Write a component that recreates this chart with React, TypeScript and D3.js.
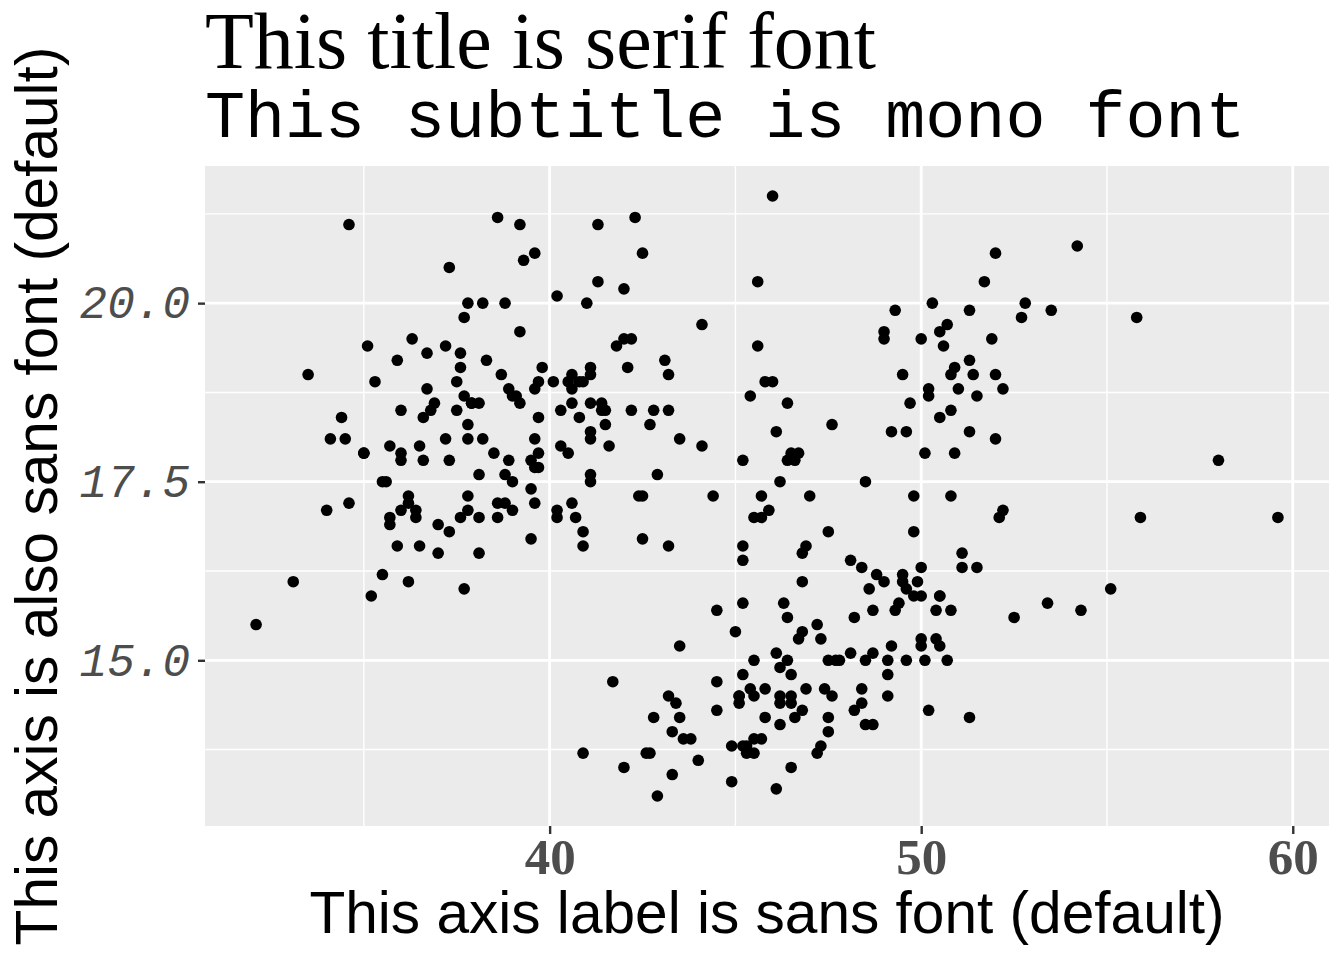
import React, { useRef, useEffect } from "react";
import * as d3 from "d3";

// bill length (mm) / bill depth (mm), grouped by the three clusters
const adelieLength = [
  39.1, 39.5, 40.3, 36.7, 39.3, 38.9, 39.2, 34.1, 42.0, 37.8, 37.8, 41.1, 38.6, 34.6, 36.6, 38.7,
  42.5, 34.4, 46.0, 37.8, 37.7, 35.9, 38.2, 38.8, 35.3, 40.6, 40.5, 37.9, 40.5, 39.5, 37.2, 39.5,
  40.9, 36.4, 39.2, 38.8, 42.2, 37.6, 39.8, 36.5, 40.8, 36.0, 44.1, 37.0, 39.6, 41.1, 37.5, 36.0,
  42.3, 39.6, 40.1, 35.0, 42.0, 34.5, 41.4, 39.0, 40.6, 36.5, 37.6, 35.7, 41.3, 37.6, 41.1, 36.4,
  41.6, 35.5, 41.1, 35.9, 41.8, 33.5, 39.7, 39.6, 45.8, 35.5, 42.8, 40.9, 37.2, 36.2, 42.1, 34.6,
  42.9, 36.7, 35.1, 37.3, 41.3, 36.3, 36.9, 38.3, 38.9, 35.7, 41.1, 34.0, 39.6, 36.2, 40.8, 38.1,
  40.3, 33.1, 43.2, 35.0, 41.0, 37.7, 37.8, 37.9, 39.7, 38.6, 38.2, 38.1, 43.2, 38.1, 45.6, 39.7,
  42.2, 39.6, 42.7, 38.6, 37.3, 35.7, 41.1, 36.2, 37.7, 40.2, 41.4, 35.2, 40.6, 38.8, 41.5, 39.0,
  44.1, 38.5, 43.1, 36.8, 37.5, 38.1, 41.1, 35.6, 40.2, 37.0, 39.7, 40.2, 40.6, 32.1, 40.7, 37.3,
  39.0, 39.2, 36.6, 36.0, 37.8, 36.0, 41.5,
];
const adelieDepth = [
  18.7, 17.4, 18.0, 19.3, 20.6, 17.8, 19.6, 18.1, 20.2, 17.1, 17.3, 17.6, 21.2, 21.1, 17.8, 19.0,
  20.7, 18.4, 21.5, 18.3, 18.7, 19.2, 18.1, 17.2, 18.9, 18.6, 17.9, 18.6, 18.9, 16.7, 18.1, 17.8,
  18.9, 17.0, 21.1, 20.0, 18.5, 19.3, 19.1, 18.0, 18.4, 18.5, 19.7, 16.9, 18.8, 19.0, 18.9, 17.9,
  21.2, 17.7, 18.9, 17.9, 19.5, 18.1, 18.6, 17.5, 18.8, 16.6, 19.1, 16.9, 21.1, 17.0, 18.2, 17.1,
  18.0, 16.2, 19.1, 16.6, 19.4, 19.0, 18.4, 17.2, 18.9, 17.5, 18.5, 16.8, 19.4, 16.1, 19.1, 17.2,
  17.6, 18.8, 19.4, 17.8, 20.3, 19.5, 18.6, 19.2, 18.8, 18.0, 18.1, 17.1, 18.1, 17.3, 18.9, 18.6,
  18.5, 16.1, 18.5, 17.9, 20.0, 16.0, 20.0, 18.6, 18.9, 17.2, 20.0, 17.0, 19.0, 16.5, 20.3, 17.7,
  19.5, 20.7, 18.3, 17.0, 20.5, 17.0, 18.6, 17.2, 19.8, 17.0, 18.5, 15.9, 19.0, 17.6, 18.3, 17.1,
  18.0, 17.9, 19.2, 18.5, 18.5, 17.6, 17.5, 17.5, 20.1, 16.5, 17.9, 17.1, 17.2, 15.5, 17.0, 16.8,
  18.7, 18.6, 18.4, 17.8, 18.1, 17.1, 18.5,
];
const gentooLength = [
  46.1, 50.0, 48.7, 50.0, 47.6, 46.5, 45.4, 46.7, 43.3, 46.8, 40.9, 49.0, 45.5, 48.4, 45.8, 49.3,
  42.0, 49.2, 46.2, 48.7, 50.2, 45.1, 46.5, 46.3, 42.9, 46.1, 44.5, 47.8, 48.2, 50.0, 47.3, 42.8,
  45.1, 59.6, 49.1, 48.4, 42.6, 44.4, 44.0, 48.7, 42.7, 49.6, 45.3, 49.6, 50.5, 43.6, 45.5, 50.5,
  44.9, 45.2, 46.6, 48.5, 45.1, 50.1, 46.5, 45.0, 43.8, 45.5, 43.2, 50.4, 45.3, 46.2, 45.7, 54.3,
  45.8, 49.8, 46.2, 49.5, 43.5, 50.7, 47.7, 46.4, 48.2, 46.5, 46.4, 48.6, 47.5, 51.1, 45.2, 45.2,
  49.1, 52.5, 47.4, 50.0, 44.9, 50.8, 43.4, 51.3, 47.5, 52.1, 47.5, 52.2, 45.5, 49.5, 44.5, 50.8,
  49.4, 46.9, 48.4, 51.1, 48.5, 55.9, 47.2, 49.1, 47.3, 46.8, 41.7, 53.4, 43.3, 48.1, 50.5, 49.8,
  43.5, 51.5, 46.2, 55.1, 44.5, 48.8, 47.2, 46.8, 50.4, 45.2, 49.9,
];
const gentooDepth = [
  13.2, 16.3, 14.1, 15.2, 14.5, 13.5, 14.6, 15.3, 13.4, 15.4, 13.7, 16.1, 13.7, 14.6, 14.6, 15.7,
  13.5, 15.2, 14.5, 15.1, 14.3, 14.5, 14.5, 15.8, 13.1, 15.1, 14.3, 15.0, 14.3, 15.3, 15.3, 14.2,
  14.5, 17.0, 14.8, 16.3, 13.7, 17.3, 13.6, 15.7, 13.7, 16.0, 13.7, 15.0, 15.9, 13.9, 13.9, 15.9,
  13.3, 15.8, 14.2, 14.1, 14.4, 15.0, 14.4, 15.4, 13.9, 15.0, 14.5, 15.3, 13.8, 14.9, 13.9, 15.7,
  14.2, 16.8, 14.4, 16.2, 14.2, 15.0, 15.0, 15.6, 15.6, 14.8, 15.0, 16.0, 14.2, 16.3, 13.8, 16.4,
  14.5, 15.6, 14.6, 15.9, 13.8, 17.3, 14.4, 14.2, 14.0, 17.0, 15.0, 17.1, 14.5, 16.1, 14.7, 15.7,
  15.8, 14.6, 14.4, 16.5, 15.0, 17.0, 15.5, 15.0, 13.8, 16.1, 14.7, 15.8, 14.0, 15.1, 15.2, 15.9,
  15.2, 16.3, 14.1, 16.0, 15.7, 16.2, 13.7, 14.3, 15.7, 14.8, 16.1,
];
const chinstrapLength = [
  46.5, 50.0, 51.3, 45.4, 52.7, 45.2, 46.1, 51.3, 46.0, 51.3, 46.6, 51.7, 47.0, 52.0, 45.9, 50.5,
  50.3, 58.0, 46.4, 49.2, 42.4, 48.5, 43.2, 50.6, 46.7, 52.0, 50.5, 49.5, 46.4, 52.8, 40.9, 54.2,
  42.5, 51.0, 49.7, 47.5, 47.6, 52.0, 46.9, 53.5, 49.0, 46.2, 50.9, 45.5, 50.9, 50.8, 50.1, 49.0,
  51.5, 49.8, 48.1, 51.4, 45.7, 50.7, 42.5, 52.2, 45.2, 49.3, 50.2, 45.6, 51.9, 46.8, 45.7, 55.8,
  43.5, 49.6, 50.8, 50.2,
];
const chinstrapDepth = [
  17.9, 19.5, 19.2, 18.7, 19.8, 17.8, 18.2, 18.2, 18.9, 19.9, 17.8, 20.3, 17.3, 18.1, 17.1, 19.6,
  20.0, 17.8, 18.6, 18.2, 17.3, 17.5, 16.6, 19.4, 17.9, 19.0, 18.4, 19.0, 17.8, 20.0, 16.6, 20.8,
  16.7, 18.8, 18.6, 16.8, 18.3, 20.7, 16.6, 19.9, 19.5, 17.5, 19.1, 17.0, 17.9, 18.5, 17.9, 19.6,
  18.7, 17.3, 16.4, 19.0, 17.3, 19.7, 17.3, 18.8, 16.6, 19.9, 18.8, 19.4, 19.5, 16.5, 17.0, 19.8,
  18.1, 18.2, 19.0, 18.7,
];

const xBreaks = [40, 50, 60];
const xMinor = [35, 45, 55];
const yBreaks = [15, 17.5, 20];
const yMinor = [13.75, 16.25, 18.75, 21.25];

const titleText = "This title is serif font";
const subtitleText = "This subtitle is mono font";
const xTitleText = "This axis label is sans font (default)";
const yTitleText = "This axis is also sans font (default)";

const WIDTH = 1344;
const HEIGHT = 960;

const PenguinScatter = () => {
  const svgRef = useRef(null);

  useEffect(() => {
    const svg = d3.select(svgRef.current);
    svg.selectAll("*").remove();

    const panel = { left: 205, right: 1329, top: 166, bottom: 826 };

    const lengths = [...adelieLength, ...gentooLength, ...chinstrapLength];
    const depths = [...adelieDepth, ...gentooDepth, ...chinstrapDepth];
    const points = lengths.map((l, i) => ({ x: l, y: depths[i] }));

    // ggplot style 5% expansion on both axes
    const [xMin, xMax] = d3.extent(lengths);
    const [yMin, yMax] = d3.extent(depths);
    const xPad = (xMax - xMin) * 0.05;
    const yPad = (yMax - yMin) * 0.05;

    const x = d3
      .scaleLinear()
      .domain([xMin - xPad, xMax + xPad])
      .range([panel.left, panel.right]);
    const y = d3
      .scaleLinear()
      .domain([yMin - yPad, yMax + yPad])
      .range([panel.bottom, panel.top]);

    svg.attr("width", WIDTH).attr("height", HEIGHT);

    svg
      .append("rect")
      .attr("width", WIDTH)
      .attr("height", HEIGHT)
      .attr("fill", "#ffffff");

    svg
      .append("rect")
      .attr("x", panel.left)
      .attr("y", panel.top)
      .attr("width", panel.right - panel.left)
      .attr("height", panel.bottom - panel.top)
      .attr("fill", "#EBEBEB");

    const grid = svg.append("g");

    grid
      .selectAll(".minor-x")
      .data(xMinor)
      .enter()
      .append("line")
      .attr("x1", (d) => x(d))
      .attr("x2", (d) => x(d))
      .attr("y1", panel.top)
      .attr("y2", panel.bottom)
      .attr("stroke", "#fff")
      .attr("stroke-width", 1.4);

    grid
      .selectAll(".minor-y")
      .data(yMinor)
      .enter()
      .append("line")
      .attr("x1", panel.left)
      .attr("x2", panel.right)
      .attr("y1", (d) => y(d))
      .attr("y2", (d) => y(d))
      .attr("stroke", "#fff")
      .attr("stroke-width", 1.4);

    grid
      .selectAll(".major-x")
      .data(xBreaks)
      .enter()
      .append("line")
      .attr("x1", (d) => x(d))
      .attr("x2", (d) => x(d))
      .attr("y1", panel.top)
      .attr("y2", panel.bottom)
      .attr("stroke", "#fff")
      .attr("stroke-width", 2.8);

    grid
      .selectAll(".major-y")
      .data(yBreaks)
      .enter()
      .append("line")
      .attr("x1", panel.left)
      .attr("x2", panel.right)
      .attr("y1", (d) => y(d))
      .attr("y2", (d) => y(d))
      .attr("stroke", "#fff")
      .attr("stroke-width", 2.8);

    svg
      .append("g")
      .selectAll("circle")
      .data(points)
      .enter()
      .append("circle")
      .attr("cx", (d) => x(d.x))
      .attr("cy", (d) => y(d.y))
      .attr("r", 5.8)
      .attr("fill", "#000");

    // x axis: ticks + bold serif labels
    const xAxis = svg
      .append("g")
      .attr("transform", `translate(0,${panel.bottom})`)
      .call(d3.axisBottom(x).tickValues(xBreaks).tickSize(8).tickFormat(d3.format("d")));
    xAxis.select(".domain").remove();
    xAxis.selectAll(".tick line").attr("stroke", "#333333").attr("stroke-width", 2.4);
    xAxis
      .selectAll(".tick text")
      .attr("fill", "#4D4D4D")
      .attr("y", 48)
      .attr("dy", null)
      .style("font-family", "'Liberation Serif', 'Times New Roman', serif")
      .style("font-weight", "bold")
      .style("font-size", "51px");

    // y axis: ticks + italic mono labels
    const yAxis = svg
      .append("g")
      .attr("transform", `translate(${panel.left},0)`)
      .call(d3.axisLeft(y).tickValues(yBreaks).tickSize(7).tickPadding(8).tickFormat(d3.format(".1f")));
    yAxis.select(".domain").remove();
    yAxis.selectAll(".tick line").attr("stroke", "#333333").attr("stroke-width", 2.4);
    yAxis
      .selectAll(".tick text")
      .attr("fill", "#4D4D4D")
      .style("font-family", "'Liberation Mono', 'Courier New', monospace")
      .style("font-style", "italic")
      .style("font-size", "46px");

    const cx = (panel.left + panel.right) / 2;
    const cy = (panel.top + panel.bottom) / 2;

    svg
      .append("text")
      .attr("x", cx)
      .attr("y", 933)
      .attr("text-anchor", "middle")
      .style("font-family", "'Liberation Sans', Arial, sans-serif")
      .style("font-size", "58.6px")
      .attr("fill", "#000")
      .text(xTitleText);

    svg
      .append("text")
      .attr("transform", `translate(57,${cy}) rotate(-90)`)
      .attr("text-anchor", "middle")
      .style("font-family", "'Liberation Sans', Arial, sans-serif")
      .style("font-size", "58.6px")
      .attr("fill", "#000")
      .text(yTitleText);

    svg
      .append("text")
      .attr("x", panel.left)
      .attr("y", 68)
      .style("font-family", "'Liberation Serif', 'Times New Roman', serif")
      .style("font-size", "80px")
      .attr("fill", "#000")
      .text(titleText);

    svg
      .append("text")
      .attr("x", panel.left)
      .attr("y", 137)
      .style("font-family", "'Liberation Mono', 'Courier New', monospace")
      .style("font-size", "66.7px")
      .attr("fill", "#000")
      .text(subtitleText);
  }, []);

  return (
    <svg
      ref={svgRef}
      style={{ position: "absolute", left: 0, top: 0, display: "block" }}
    ></svg>
  );
};

export default function App() {
  return <PenguinScatter />;
}
